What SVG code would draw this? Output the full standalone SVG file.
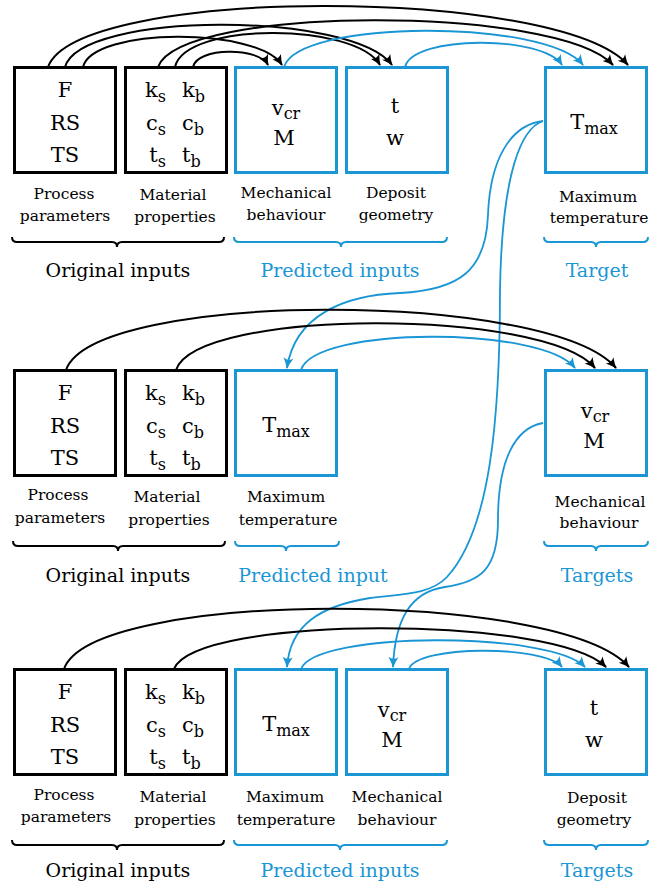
<svg xmlns="http://www.w3.org/2000/svg" width="651" height="885" viewBox="0 0 651 885">
<style>
text{font-family:"DejaVu Serif","Liberation Serif",serif;fill:#000}
.m{font-size:21px;text-anchor:middle}
.me{font-size:21px;text-anchor:end}
.ms{font-size:21px;text-anchor:start}
.sb{font-size:16px}
.lb{font-size:15.5px;text-anchor:middle}
.gt{font-size:19px;text-anchor:middle}
.bl{fill:#1a96d5}
.bk{fill:none;stroke:#000;stroke-width:3}
.bb{fill:none;stroke:#1a96d5;stroke-width:3}
.br{fill:none;stroke:#000;stroke-width:2}
.brb{fill:none;stroke:#1a96d5;stroke-width:2}
.ck{fill:none;stroke:#000;stroke-width:2;marker-end:url(#ak)}
.cb{fill:none;stroke:#1a96d5;stroke-width:1.8;marker-end:url(#ab)}
</style>
<defs>
<marker id="ak" viewBox="-11 -6 12 12" refX="0" refY="0" markerWidth="12" markerHeight="12" markerUnits="userSpaceOnUse" orient="auto">
<path d="M1,0 Q-4,-1.5 -10,-5 Q-6.5,0 -10,5 Q-4,1.5 1,0Z" fill="#000"/>
</marker>
<marker id="ab" viewBox="-11 -6 12 12" refX="0" refY="0" markerWidth="12" markerHeight="12" markerUnits="userSpaceOnUse" orient="auto">
<path d="M1,0 Q-4,-1.5 -10,-5 Q-6.5,0 -10,5 Q-4,1.5 1,0Z" fill="#1a96d5"/>
</marker>
</defs>

<g id="connectors">
<!-- row 1 -->
<path class="ck" d="M48,67 C77,-14 558,-14 628,65"/>
<path class="ck" d="M65,67 C81,11 353,11 392,65"/>
<path class="ck" d="M83,67 C93,27 258,27 282,65"/>
<path class="ck" d="M158,67 C181,5 558,5 613,65"/>
<path class="ck" d="M175,67 C185,22 355,22 380,65"/>
<path class="ck" d="M193,67 C197,47 259,47 268,65"/>
<path class="cb" d="M284,67 C299,19 547,19 583,65"/>
<path class="cb" d="M405,67 C413,35 543,35 562,65"/>
<!-- row 1 target to rows 2 and 3 -->
<path class="cb" d="M543,121 C510,125 490,160 488,215 C486,270 460,290 400,293 C345,295 295,315 287,368"/>
<path class="cb" d="M543,121 C522,128 502,170 500,290 C500,420 490,530 447,577 C430,595 400,594 370,598 C320,606 290,625 287,667"/>
<!-- row 2 -->
<path class="ck" d="M66,370 C94,290 550,290 616,368"/>
<path class="ck" d="M176,370 C197,308 545,308 595,368"/>
<path class="cb" d="M301,370 C315,326 542,326 575,368"/>
<!-- row 2 target to row 3 -->
<path class="cb" d="M543,423 C515,428 498,460 498,520 C498,570 480,582 445,587 C410,592 395,620 393,667"/>
<!-- row 3 -->
<path class="ck" d="M64,669 C92,589 561,589 629,667"/>
<path class="ck" d="M174,669 C196,615 554,615 606,667"/>
<path class="cb" d="M301,669 C315,631 551,631 585,667"/>
<path class="cb" d="M409,669 C417,645 544,645 562,667"/>
</g>

<!-- ===== Row 1 ===== -->
<g id="r1-process">
<rect class="bk" x="14.5" y="67.5" width="101" height="105"/>
<text class="m" x="65" y="97">F</text>
<text class="m" x="65" y="130">RS</text>
<text class="m" x="65" y="162">TS</text>
<text class="lb" x="64" y="199">Process</text>
<text class="lb" x="65" y="221">parameters</text>
</g>
<g id="r1-material">
<rect class="bk" x="125.5" y="67.5" width="101" height="105"/>
<text class="me" x="166" y="97">k<tspan class="sb" dy="5">s</tspan></text>
<text class="ms" x="182" y="97">k<tspan class="sb" dy="5">b</tspan></text>
<text class="me" x="166" y="130">c<tspan class="sb" dy="5">s</tspan></text>
<text class="ms" x="182" y="130">c<tspan class="sb" dy="5">b</tspan></text>
<text class="me" x="166" y="162">t<tspan class="sb" dy="5">s</tspan></text>
<text class="ms" x="182" y="162">t<tspan class="sb" dy="5">b</tspan></text>
<text class="lb" x="173" y="200">Material</text>
<text class="lb" x="175" y="222">properties</text>
</g>
<g id="r1-mechanical">
<rect class="bb" x="235.5" y="67.5" width="101" height="105"/>
<text class="m" x="286" y="115">v<tspan class="sb" dy="4">cr</tspan></text>
<text class="m" x="284" y="145">M</text>
<text class="lb" x="286" y="198">Mechanical</text>
<text class="lb" x="286" y="220">behaviour</text>
</g>
<g id="r1-deposit">
<rect class="bb" x="346.5" y="67.5" width="101" height="105"/>
<text class="m" x="395" y="113">t</text>
<text class="m" x="395" y="145">w</text>
<text class="lb" x="396" y="198">Deposit</text>
<text class="lb" x="396" y="220">geometry</text>
</g>
<g id="r1-temperature">
<rect class="bb" x="545.5" y="67.5" width="101" height="105"/>
<text class="m" x="594" y="129">T<tspan class="sb" dy="5">max</tspan></text>
<text class="lb" x="598" y="202">Maximum</text>
<text class="lb" x="599" y="223">temperature</text>
</g>
<g id="r1-groups">
<path class="br" d="M12,237 Q12,242 17,242 H112 Q117,242 117,247 Q117,242 122,242 H219 Q224,242 224,237"/>
<path class="brb" d="M234,237 Q234,242 239,242 H336 Q341,242 341,247 Q341,242 346,242 H442 Q447,242 447,237"/>
<path class="brb" d="M544,237 Q544,242 549,242 H591 Q596,242 596,247 Q596,242 601,242 H643 Q648,242 648,237"/>
<text class="gt" x="118" y="277">Original inputs</text>
<text class="gt bl" x="340" y="277">Predicted inputs</text>
<text class="gt bl" x="597" y="277">Target</text>
</g>

<!-- ===== Row 2 ===== -->
<g id="r2-process">
<rect class="bk" x="14.5" y="370.5" width="101" height="105"/>
<text class="m" x="65" y="400">F</text>
<text class="m" x="65" y="433">RS</text>
<text class="m" x="65" y="465">TS</text>
<text class="lb" x="58" y="500">Process</text>
<text class="lb" x="60" y="523">parameters</text>
</g>
<g id="r2-material">
<rect class="bk" x="125.5" y="370.5" width="101" height="105"/>
<text class="me" x="166" y="400">k<tspan class="sb" dy="5">s</tspan></text>
<text class="ms" x="182" y="400">k<tspan class="sb" dy="5">b</tspan></text>
<text class="me" x="166" y="433">c<tspan class="sb" dy="5">s</tspan></text>
<text class="ms" x="182" y="433">c<tspan class="sb" dy="5">b</tspan></text>
<text class="me" x="166" y="465">t<tspan class="sb" dy="5">s</tspan></text>
<text class="ms" x="182" y="465">t<tspan class="sb" dy="5">b</tspan></text>
<text class="lb" x="167" y="502">Material</text>
<text class="lb" x="169" y="525">properties</text>
</g>
<g id="r2-temperature">
<rect class="bb" x="235.5" y="370.5" width="101" height="105"/>
<text class="m" x="286" y="432">T<tspan class="sb" dy="5">max</tspan></text>
<text class="lb" x="286" y="502">Maximum</text>
<text class="lb" x="288" y="525">temperature</text>
</g>
<g id="r2-mechanical">
<rect class="bb" x="545.5" y="370.5" width="101" height="105"/>
<text class="m" x="595" y="418">v<tspan class="sb" dy="4">cr</tspan></text>
<text class="m" x="594" y="448">M</text>
<text class="lb" x="600" y="507">Mechanical</text>
<text class="lb" x="599" y="528">behaviour</text>
</g>
<g id="r2-groups">
<path class="br" d="M13,541 Q13,546 18,546 H113 Q118,546 118,551 Q118,546 123,546 H220 Q225,546 225,541"/>
<path class="brb" d="M235,541 Q235,546 240,546 H281 Q286,546 286,551 Q286,546 291,546 H334 Q339,546 339,541"/>
<path class="brb" d="M544,541 Q544,546 549,546 H591 Q596,546 596,551 Q596,546 601,546 H643 Q648,546 648,541"/>
<text class="gt" x="118" y="582">Original inputs</text>
<text class="gt bl" x="313" y="582">Predicted input</text>
<text class="gt bl" x="597" y="582">Targets</text>
</g>

<!-- ===== Row 3 ===== -->
<g id="r3-process">
<rect class="bk" x="14.5" y="669.5" width="101" height="105"/>
<text class="m" x="65" y="699">F</text>
<text class="m" x="65" y="732">RS</text>
<text class="m" x="65" y="764">TS</text>
<text class="lb" x="64" y="800">Process</text>
<text class="lb" x="66" y="822">parameters</text>
</g>
<g id="r3-material">
<rect class="bk" x="125.5" y="669.5" width="101" height="105"/>
<text class="me" x="166" y="699">k<tspan class="sb" dy="5">s</tspan></text>
<text class="ms" x="182" y="699">k<tspan class="sb" dy="5">b</tspan></text>
<text class="me" x="166" y="732">c<tspan class="sb" dy="5">s</tspan></text>
<text class="ms" x="182" y="732">c<tspan class="sb" dy="5">b</tspan></text>
<text class="me" x="166" y="764">t<tspan class="sb" dy="5">s</tspan></text>
<text class="ms" x="182" y="764">t<tspan class="sb" dy="5">b</tspan></text>
<text class="lb" x="173" y="802">Material</text>
<text class="lb" x="175" y="825">properties</text>
</g>
<g id="r3-temperature">
<rect class="bb" x="235.5" y="669.5" width="101" height="105"/>
<text class="m" x="286" y="731">T<tspan class="sb" dy="5">max</tspan></text>
<text class="lb" x="285" y="802">Maximum</text>
<text class="lb" x="286" y="825">temperature</text>
</g>
<g id="r3-mechanical">
<rect class="bb" x="346.5" y="669.5" width="101" height="105"/>
<text class="m" x="392" y="717">v<tspan class="sb" dy="4">cr</tspan></text>
<text class="m" x="392" y="747">M</text>
<text class="lb" x="397" y="802">Mechanical</text>
<text class="lb" x="397" y="825">behaviour</text>
</g>
<g id="r3-deposit">
<rect class="bb" x="545.5" y="669.5" width="101" height="105"/>
<text class="m" x="594" y="715">t</text>
<text class="m" x="594" y="747">w</text>
<text class="lb" x="597" y="803">Deposit</text>
<text class="lb" x="594" y="825">geometry</text>
</g>
<g id="r3-groups">
<path class="br" d="M12,840 Q12,845 17,845 H112 Q117,845 117,850 Q117,845 122,845 H219 Q224,845 224,840"/>
<path class="brb" d="M234,840 Q234,845 239,845 H335 Q340,845 340,850 Q340,845 345,845 H442 Q447,845 447,840"/>
<path class="brb" d="M544,840 Q544,845 549,845 H591 Q596,845 596,850 Q596,845 601,845 H643 Q648,845 648,840"/>
<text class="gt" x="118" y="877">Original inputs</text>
<text class="gt bl" x="340" y="877">Predicted inputs</text>
<text class="gt bl" x="597" y="877">Targets</text>
</g>
</svg>
